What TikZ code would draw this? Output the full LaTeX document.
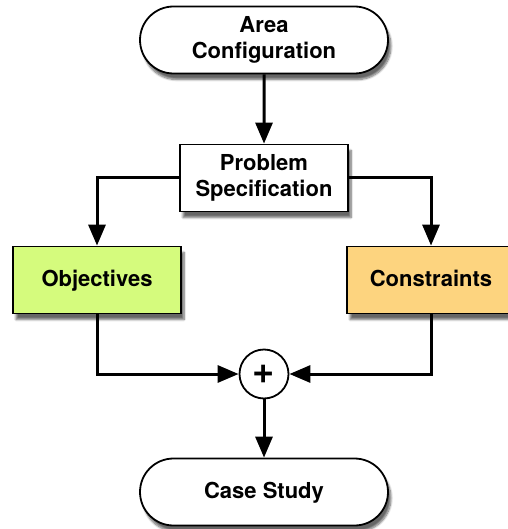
\documentclass[tikz,border=0pt]{standalone}
\usepackage{fontspec}
\setmainfont{TeX Gyre Heros}
\usetikzlibrary{arrows.meta}
\usetikzlibrary{shapes.misc}
\usetikzlibrary{shadows.blur}
\usetikzlibrary{positioning}
\definecolor{objgreen}{RGB}{213,251,125}
\definecolor{consorange}{RGB}{253,212,127}

\begin{document}
\begin{tikzpicture}[x=1pt,y=-1pt,->,>={Triangle[length=21pt,width=17pt]},line width=3pt,
    font=\fontsize{22}{26}\selectfont\bfseries,
    shade box/.style={draw,line width=1.8pt,align=center,inner sep=0pt,
      blur shadow={shadow xshift=3pt,shadow yshift=-6pt,shadow blur steps=8,shadow opacity=60}},
    end node/.style={shade box,rounded rectangle,fill=white,minimum width=248pt,minimum height=67pt},
    task node/.style={shade box,rectangle,minimum width=168pt,minimum height=67pt},
    one line/.style={text height=16pt,text depth=4pt},
    sum node/.style={circle,draw,line width=1.8pt,fill=white,minimum size=49pt,inner sep=0pt,
      font=\fontsize{38}{38}\selectfont\bfseries}]

   \useasboundingbox (0,0) rectangle (507,529);

   \begin{scope}

    \node[end node] (area) at (264,40) {Area\\Configuration};
    \node[task node,fill=white] (spec) at (264,178) {Problem\\Specification};
    \node[task node,one line,fill=objgreen] (obj) at (97,280) {Objectives};
    \node[task node,one line,fill=consorange] (cons) at (431,280) {Constraints};
    \node[sum node] (plus) at (264,374) {+};
    \node[end node,one line] (case) at (264,492) {Case Study};

    \path (area) edge (spec);
    \draw (spec) -| (obj);
    \draw (spec) -| (cons);
    \draw (obj) |- (plus);
    \draw (cons) |- (plus);
    \path (plus) edge (case);

   \end{scope}
  \end{tikzpicture}
\end{document}
